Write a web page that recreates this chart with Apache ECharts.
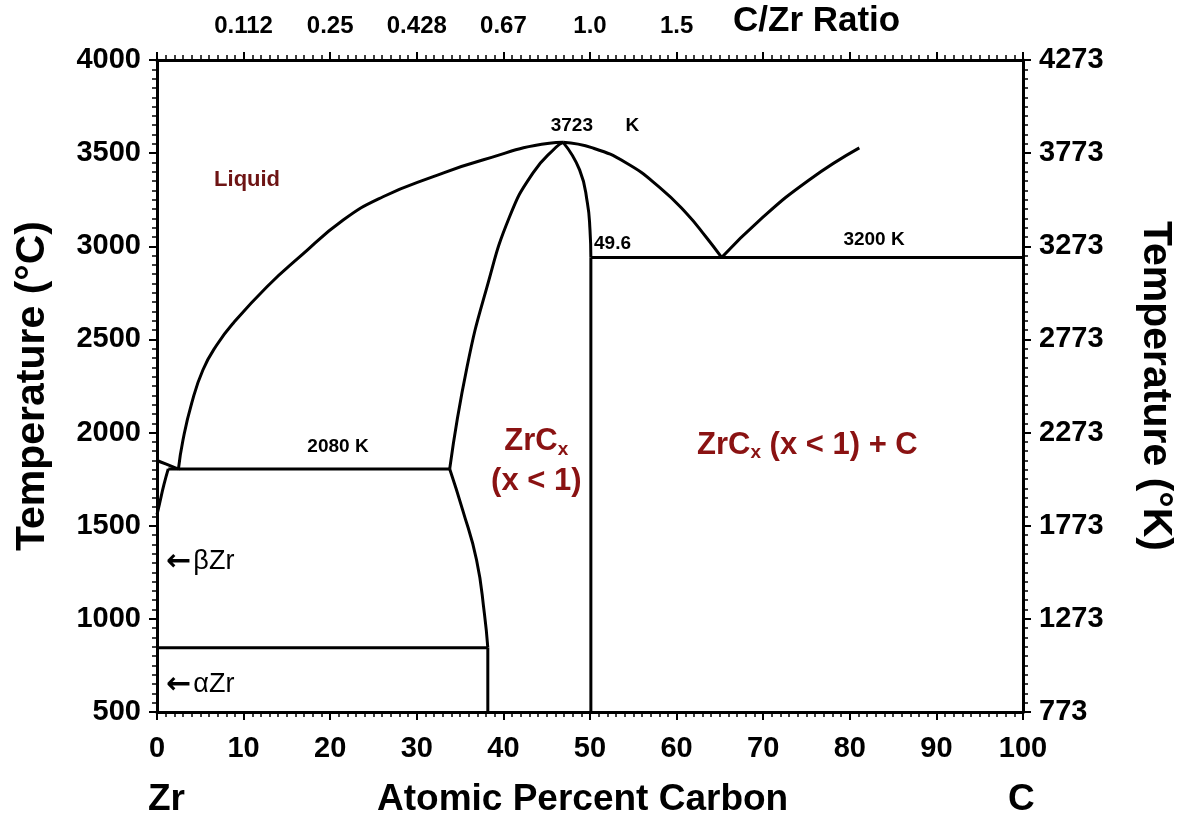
<!DOCTYPE html>
<html>
<head>
<meta charset="utf-8">
<script src="https://cdn.jsdelivr.net/npm/echarts/dist/echarts.min.js"></script>
<style>
  html, body { margin: 0; padding: 0; background: #fff; }
  #chart { width: 1184px; height: 825px; }
</style>
</head>
<body>
<div id="chart"></div>
<script>
// phase boundaries, [atomic % C, temperature °C]
const liquidusZr = [[2.46, 1799], [3.0, 1960], [4.0, 2157], [5.3, 2336], [6.9, 2470], [8.8, 2587],
  [12.7, 2783], [16.5, 2944], [21.5, 3141], [26.1, 3266], [31.9, 3374], [37.6, 3463], [45.3, 3553], [46.9, 3558]]
const solidusZrC = [[33.8, 1805], [35.8, 2352], [38.1, 2781], [40.7, 3157], [43.4, 3393], [46.1, 3533], [46.9, 3558]]
const solvusZrC = [[33.8, 1805], [35.3, 1584], [36.9, 1316], [37.8, 1031], [38.2, 845]]
const solvusZrCLow = [[38.2, 845], [38.2, 500]]
const carbonSideZrC = [[46.9, 3558], [48.8, 3410], [49.7, 3232], [50.0, 3087], [50.1, 2940]]
const carbonSideZrCLow = [[50.1, 2940], [50.1, 500]]
const liquidusC1 = [[46.9, 3558], [50.3, 3528], [54.2, 3447], [58.0, 3318], [61.1, 3179], [63.4, 3050], [65.2, 2940]]
const liquidusC2 = [[65.2, 2940], [69.6, 3141], [75.3, 3356], [81.1, 3528]]
const eutecticC = [[50.1, 2940], [100, 2940]]
const eutecticZr = [[1.3, 1805], [33.8, 1805]]
const alphaBeta = [[0, 845], [38.2, 845]]
const betaSolidus = [[0, 1850], [1.0, 1832], [2.4, 1805]]
const betaSolvus = [[1.3, 1805], [0.8, 1720], [0.3, 1620], [0, 1560]]

// top axis: C/Zr ratio at these atomic % C
const ratioPct = [10, 20, 30, 40, 50, 60]
const ratioText = ['0.112', '0.25', '0.428', '0.67', '1.0', '1.5']

const SANS = "'Liberation Sans', Arial, sans-serif"
const RED = '#8a1212'

let chart = echarts.init(document.getElementById('chart'))

function boundary(data, smooth) {
  return {
    type: 'line',
    data: data,
    smooth: smooth ? 0.5 : false,
    symbol: 'none',
    lineStyle: { color: '#000', width: 3 },
    silent: true,
    z: 3,
  }
}

function note(x, t, text, style) {
  return { value: [x, t], label: Object.assign({ show: true, position: 'inside', formatter: text, color: '#000',
    fontFamily: SANS, fontWeight: 'bold', fontSize: 19 }, style || {}) }
}

const baseAxis = {
  type: 'value',
  min: 0,
  max: 100,
  interval: 10,
  splitLine: { show: false },
  axisLine: { show: true, onZero: false, lineStyle: { color: '#000', width: 3 } },
  axisTick: { show: true, length: 8, lineStyle: { color: '#000', width: 2 } },
  minorTick: { show: true, splitNumber: 10, length: 5, lineStyle: { color: '#000', width: 1.5 } },
}

const tempAxis = Object.assign({}, baseAxis, { min: 500, max: 4000, interval: 500 })
const tickFont = { color: '#000', fontFamily: SANS, fontWeight: 'bold', fontSize: 29 }
const subRich = {
  a: { fontSize: 31, fontWeight: 'bold', color: RED, fontFamily: SANS, lineHeight: 34 },
  s: { fontSize: 19, fontWeight: 'bold', color: RED, fontFamily: SANS, lineHeight: 12, verticalAlign: 'bottom' },
}
const arrowRich = {
  ar: { fontSize: 30, fontWeight: 'bold', color: '#000', fontFamily: 'DejaVu Sans', padding: [0, 2, 0, 0] },
  t: { fontSize: 27, fontWeight: 'normal', color: '#000', fontFamily: SANS },
}

let option = {
  animation: false,
  backgroundColor: '#fff',
  grid: { left: 157, right: 161, top: 60, bottom: 113 },
  xAxis: [
    Object.assign({}, baseAxis, {
      position: 'bottom',
      axisLabel: Object.assign({ margin: 22, formatter: (v) => String(v) }, tickFont),
    }),
    Object.assign({}, baseAxis, {
      position: 'top',
      axisLabel: {
        color: '#000', fontFamily: SANS, fontWeight: 'bold', fontSize: 24, margin: 22,
        formatter: (v) => {
          let i = ratioPct.indexOf(v)
          return i >= 0 ? ratioText[i] : ''
        },
      },
    }),
  ],
  yAxis: [
    Object.assign({}, tempAxis, {
      position: 'left',
      name: 'Temperature (°C)',
      nameLocation: 'middle',
      nameGap: 104,
      nameTextStyle: { color: '#000', fontFamily: SANS, fontWeight: 'bold', fontSize: 41 },
      axisLabel: Object.assign({ margin: 16, formatter: (v) => String(v) }, tickFont),
    }),
    Object.assign({}, tempAxis, {
      position: 'right',
      name: 'Temperature (°K)',
      nameLocation: 'middle',
      nameRotate: -90,
      nameGap: 112,
      nameTextStyle: { color: '#000', fontFamily: SANS, fontWeight: 'bold', fontSize: 41 },
      axisLabel: Object.assign({ margin: 16, formatter: (v) => String(v + 273) }, tickFont),
    }),
  ],
  graphic: [
    { type: 'text', left: 733, top: 4, style: { text: 'C/Zr Ratio', font: 'bold 35px ' + SANS, fill: '#000' } },
    { type: 'text', left: 148, top: 781, style: { text: 'Zr', font: 'bold 37px ' + SANS, fill: '#000' } },
    { type: 'text', left: 377, top: 781, style: { text: 'Atomic Percent Carbon', font: 'bold 37px ' + SANS, fill: '#000' } },
    { type: 'text', left: 1008, top: 781, style: { text: 'C', font: 'bold 37px ' + SANS, fill: '#000' } },
  ],
  series: [
    boundary(liquidusZr, true),
    boundary(solidusZrC, true),
    boundary(solvusZrC, true),
    boundary(solvusZrCLow, false),
    boundary(carbonSideZrC, true),
    boundary(carbonSideZrCLow, false),
    boundary(liquidusC1, true),
    boundary(liquidusC2, true),
    boundary(eutecticC, false),
    boundary(eutecticZr, false),
    boundary(alphaBeta, false),
    boundary(betaSolidus, true),
    boundary(betaSolvus, true),
    {
      type: 'scatter',
      symbolSize: 0,
      silent: true,
      z: 5,
      itemStyle: { opacity: 1 },
      data: [
        note(10.4, 3356, 'Liquid', { color: '#6e1414', fontSize: 22 }),
        note(47.9, 3646, '3723'),
        note(54.9, 3646, 'K'),
        note(52.6, 3012, '49.6'),
        note(82.8, 3034, '3200 K'),
        note(20.9, 1922, '2080 K'),
        note(43.8, 1950, '{a|ZrC}{s|x}', { rich: subRich }),
        note(43.8, 1740, '(x < 1)', { color: RED, fontSize: 31 }),
        note(75.1, 1933, '{a|ZrC}{s|x}{a| (x < 1) + C}', { rich: subRich }),
        note(5.0, 1305, '{ar|←}{t|βZr}', { rich: arrowRich }),
        note(5.0, 645, '{ar|←}{t|αZr}', { rich: arrowRich }),
      ],
    },
  ],
}

chart.setOption(option)
window.addEventListener('resize', () => {
  chart.resize()
})
</script>
</body>
</html>
